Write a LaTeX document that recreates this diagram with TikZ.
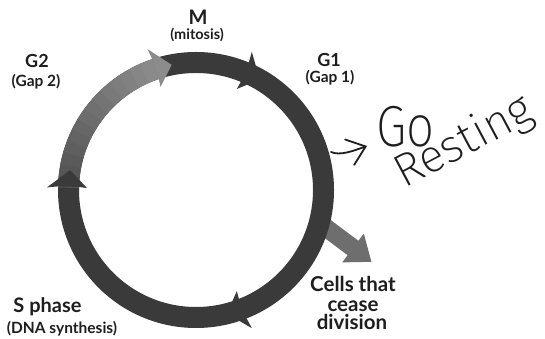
\documentclass[tikz,border=0pt]{standalone}
\usepackage{fontspec}
\setmainfont{Lato}
\newfontfamily\hand{Fira Sans ExtraLight}
\usetikzlibrary{arrows.meta,calc}
\definecolor{bandd}{HTML}{3A3A3A}
\definecolor{branchc}{HTML}{6E6E6E}
\definecolor{inkc}{HTML}{1E1E1E}
\begin{document}
\begin{tikzpicture}[x=1pt,y=1pt,
  lbl/.style={font=\bfseries\fontsize{#1}{#1}\selectfont, inner sep=0pt, text=inkc},
  handtxt/.style={font=\hand\fontsize{#1}{#1}\selectfont, inner sep=0pt, text=inkc},
  band/.style={line width=21pt},
  handarrow/.style={draw=inkc, line width=1.8pt, line cap=round,
     -{Straight Barb[length=17pt,width=27pt,line cap=round]}}]
\useasboundingbox (0,0) rectangle (545,339);
\fill[white] (0,0) rectangle (545,339);
\coordinate (c) at (196,149);
% branch arrow (cells that cease division)
\fill[branchc] (328,121) -- (358.4,98.2) -- (363.8,105.4) -- (371.4,77.2)
   -- (342.2,76.6) -- (347.6,83.8) -- (317.2,106.6) -- cycle;
% dark ring
\draw[band, bandd] (c) circle[radius=127.5pt];
% G2 segment, lighter, graded
\foreach \i in {0,...,13}{
  \pgfmathsetmacro{\sa}{179-5*\i}
  \pgfmathsetmacro{\ea}{179-5*\i-5.6}
  \pgfmathsetmacro{\cv}{68-1.7*\i}
  \draw[band, black!\cv] (c) ++(\sa:127.5pt) arc[start angle=\sa, end angle=\ea, radius=127.5pt];
}
% arrowheads (barbed, pointing clockwise)
\newcommand{\ahead}[2]{%
  \fill[#2] ($(c)+(#1-0.5:117pt)$) -- ($(c)+(#1:109pt)$) -- ($(c)+(#1-8:127.5pt)$)
    -- ($(c)+(#1:149pt)$) -- ($(c)+(#1-0.5:138pt)$) -- cycle;}
\ahead{109}{black!45}
\ahead{68}{bandd}
\ahead{179}{bandd}
\ahead{-68}{bandd}
% labels
\node[lbl=20, anchor=base] (M) at (198,314) {M};
\node[lbl=14.5] (mit) at (197,304) {(mitosis)};
\node[lbl=18] (G2) at (37,278) {G2};
\node[lbl=15.5] (gap2) at (36,257) {(Gap 2)};
\node[lbl=18] (G1) at (329,279) {G1};
\node[lbl=15.5] (gap1) at (330,261) {(Gap 1)};
\node[lbl=20, anchor=base] (S) at (47.5,26) {S phase};
\node[lbl=15.5] (dna) at (62,10) {(DNA synthesis)};
\node[lbl=20.5, anchor=base] (cl1) at (353,47) {Cells that};
\node[lbl=20.5, anchor=base] (cl2) at (353,27) {cease};
\node[lbl=20.5, anchor=base] (cl3) at (352,9) {division};
% handwritten annotation
\coordinate (g0src) at (331,187);
\node[handtxt=58, xscale=0.85, anchor=base west] (Go) at (376,192) {Go};
\node[handtxt=46, rotate=28, anchor=base west] (rest) at (404,150) {Resting};
\draw[handarrow] (g0src) .. controls +(9,-4) and +(-14,-5) .. ($(Go.base west)+(-9,1)$);
\end{tikzpicture}
\end{document}
